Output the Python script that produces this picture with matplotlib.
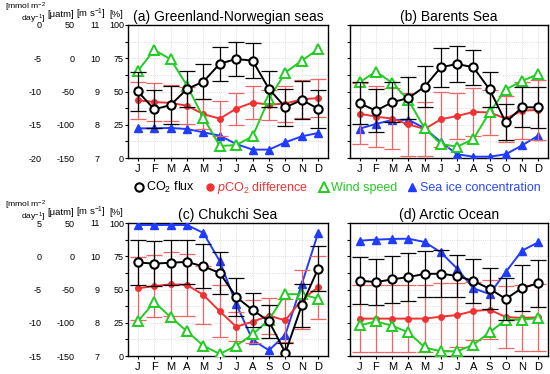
import matplotlib
matplotlib.use('Agg')
import matplotlib.pyplot as plt
from matplotlib.lines import Line2D
from matplotlib.ticker import MultipleLocator
import numpy as np

plt.rcParams['font.family'] = ['Liberation Sans', 'DejaVu Sans']
plt.rcParams['mathtext.fontset'] = 'custom'
plt.rcParams['mathtext.rm'] = 'Liberation Sans'
plt.rcParams['mathtext.it'] = 'Liberation Sans:italic'
plt.rcParams['mathtext.bf'] = 'Liberation Sans:bold'
plt.rcParams['mathtext.sf'] = 'Liberation Sans'

months = ['J', 'F', 'M', 'A', 'M', 'J', 'J', 'A', 'S', 'O', 'N', 'D']
titles = ['(a) Greenland-Norwegian seas', '(b) Barents Sea', '(c) Chukchi Sea', '(d) Arctic Ocean']

# CO2 flux [mmol m-2 day-1] and its spread
flux_a = [-9.98, -12.68, -12.04, -9.62, -8.52, -5.82, -5.12, -5.36, -9.62, -12.38, -11.28, -12.58]
flux_sd_a = [2.9, 2.85, 2.9, 2.75, 2.65, 2.55, 2.55, 2.6, 2.65, 2.8, 2.8, 2.85]
flux_b = [-11.78, -12.88, -11.62, -10.98, -9.28, -6.36, -5.86, -6.36, -9.68, -14.64, -12.38, -12.38]
flux_sd_b = [3.15, 3.2, 3.0, 3.15, 3.05, 2.9, 2.65, 2.65, 2.65, 2.7, 3.0, 3.1]
flux_c = [-0.92, -1.12, -0.96, -0.86, -1.52, -2.52, -6.12, -8.08, -9.78, -14.5, -7.38, -1.86]
flux_sd_c = [3.4, 3.35, 3.35, 3.35, 3.3, 3.1, 2.9, 2.6, 2.5, 1.5, 3.2, 3.4]
flux_d = [-3.68, -3.88, -3.48, -3.12, -2.66, -2.62, -2.96, -3.72, -4.88, -6.42, -4.78, -4.08]
flux_sd_d = [3.5, 3.5, 3.55, 3.6, 3.5, 3.55, 3.15, 3.25, 3.1, 3.2, 3.5, 3.5]

# pCO2 difference [uatm] and its spread
pco2_a = [-63.2, -65.8, -67.2, -71.4, -84.0, -90.8, -75.8, -66.6, -69.8, -68.2, -61.8, -59.8]
pco2_sd_a = [28, 28, 27.5, 27.5, 22, 26, 24, 24.5, 22.5, 27, 28.5, 28]
pco2_b = [-83.4, -87.8, -90.8, -99.4, -106.4, -91.8, -86.8, -80.8, -81.4, -90.8, -78.8, -77.8]
pco2_sd_b = [46, 46, 45.5, 47, 40, 41, 35, 36, 33.5, 34.5, 42.5, 45]
pco2_c = [-48.2, -44.8, -42.2, -43.2, -58.2, -82.8, -106.0, -98.4, -89.4, -96.4, -65.2, -46.8]
pco2_sd_c = [47, 47, 48, 46, 43, 39, 22, 32, 27, 32, 44, 47]
pco2_d = [-93.8, -93.8, -93.8, -93.8, -93.8, -90.8, -88.4, -82.4, -80.4, -91.4, -92.8, -91.8]
pco2_sd_d = [50, 50, 50, 50, 50, 50, 48, 44, 44, 47, 49, 50]

# Wind speed [m s-1]
wind_a = [9.62, 10.25, 9.97, 9.18, 8.21, 7.36, 7.39, 7.65, 8.78, 9.57, 9.93, 10.27]
wind_b = [9.28, 9.60, 9.26, 8.74, 7.89, 7.42, 7.34, 7.57, 8.37, 9.06, 9.32, 9.52]
wind_c = [8.04, 8.62, 8.17, 7.74, 7.31, 7.06, 7.31, 7.65, 8.09, 8.86, 8.86, 8.72]
wind_d = [7.92, 8.04, 7.91, 7.71, 7.26, 7.14, 7.14, 7.34, 7.71, 8.09, 8.09, 8.14]

# Sea ice concentration [%]
ice_a = [22.3, 22.3, 22.6, 21.8, 19.3, 16.8, 10.5, 6.3, 6.3, 11.8, 16.3, 18.8]
ice_b = [22.1, 25.6, 28.6, 28.8, 22.3, 12.0, 2.8, 1.0, 1.0, 2.8, 9.5, 16.8]
ice_c = [98.5, 98.5, 98.5, 98.5, 92.5, 71.2, 39.1, 12.0, 4.3, 16.0, 54.1, 92.5]
ice_d = [86.7, 87.5, 88.0, 88.2, 85.7, 77.9, 65.7, 50.9, 46.6, 63.2, 79.2, 85.5]

flux_ticks_top = [-20, -15, -10, -5, 0]
flux_ticks_bottom = [-15, -10, -5, 0, 5]
pco2_ticks = [-150, -100, -50, 0, 50]
wind_ticks = [7, 8, 9, 10, 11]
ice_ticks = [0, 25, 50, 75, 100]

BLACK = '#000000'
RED = '#f03232'
RED_ERR = '#f26464'
GREEN = '#22cc22'
BLUE = '#1f3cff'

fig = plt.figure(figsize=(5.5, 3.74), dpi=100)
W, H = 550.0, 374.0


def rect(l, t, r, b):
    return [l / W, 1 - b / H, (r - l) / W, (b - t) / H]


def make_twin(ax, lim, ticks, offset, show):
    tw = ax.twinx()
    tw.set_ylim(lim)
    for s in tw.spines.values():
        s.set_visible(False)
    if show:
        tw.yaxis.set_ticks_position('left')
        tw.spines['left'].set_position(('outward', offset))
        tw.set_yticks(ticks)
        tw.set_yticklabels([str(t) for t in ticks])
        tw.tick_params(axis='y', length=0, pad=0, labelsize=6.5)
    else:
        tw.set_yticks([])
    return tw


def panel(r, title, flux, flux_sd, pco2, pco2_sd, wind, ice, flux_ticks, show):
    ax = fig.add_axes(r)
    xs = np.arange(1, 13)
    ax.set_xlim(0.4, 12.6)
    ax.set_ylim(0, 100)
    ax.set_xticks(xs)
    ax.set_xticklabels(months)
    ax.set_yticks(ice_ticks)
    ax.yaxis.set_minor_locator(MultipleLocator(12.5))
    if show:
        ax.set_yticklabels([str(t) for t in ice_ticks])
    else:
        ax.set_yticklabels([])
    ax.tick_params(axis='y', which='both', direction='out', length=2, width=0.8, pad=1, labelsize=6.5)
    ax.tick_params(axis='x', direction='out', length=2, width=0.8, pad=2, labelsize=8)
    ax.grid(True, which='both', linestyle=':', color='#d0d0d0', linewidth=0.6)
    for s in ax.spines.values():
        s.set_linewidth(1.0)
    ax.set_title(title, fontsize=10, pad=3)

    tw_p = make_twin(ax, (pco2_ticks[0], pco2_ticks[-1]), pco2_ticks, 38.2, show)
    tw_w = make_twin(ax, (wind_ticks[0], wind_ticks[-1]), wind_ticks, 20.2, show)
    tw_f = make_twin(ax, (flux_ticks[0], flux_ticks[-1]), flux_ticks, 61.9, show)

    ax.plot(xs, ice, '-^', color=BLUE, mfc=BLUE, mec=BLUE, ms=6, lw=1.4, zorder=3)
    tw_p.errorbar(xs, pco2, yerr=pco2_sd, fmt='none', ecolor=RED_ERR, elinewidth=0.9,
                  capsize=5.5, capthick=0.9, zorder=1)
    tw_p.plot(xs, pco2, '-o', color=RED, ms=4, lw=1.4, zorder=3)
    tw_w.plot(xs, wind, '-^', color=GREEN, mfc='white', mec=GREEN, mew=1.4, ms=7, lw=1.4, zorder=3)
    tw_f.errorbar(xs, flux, yerr=flux_sd, fmt='none', ecolor=BLACK, elinewidth=0.9,
                  capsize=5.5, capthick=0.9, zorder=1)
    tw_f.plot(xs, flux, '-o', color=BLACK, mfc='white', mec=BLACK, mew=1.5, ms=6, lw=1.4, zorder=3)
    return ax


panel(rect(128, 25, 328, 158), titles[0], flux_a, flux_sd_a, pco2_a, pco2_sd_a, wind_a, ice_a, flux_ticks_top, True)
panel(rect(350, 25, 548, 158), titles[1], flux_b, flux_sd_b, pco2_b, pco2_sd_b, wind_b, ice_b, flux_ticks_top, False)
panel(rect(128, 223, 328, 356), titles[2], flux_c, flux_sd_c, pco2_c, pco2_sd_c, wind_c, ice_c, flux_ticks_bottom, True)
panel(rect(350, 223, 548, 356), titles[3], flux_d, flux_sd_d, pco2_d, pco2_sd_d, wind_d, ice_d, flux_ticks_bottom, False)

# unit headers
for (ytop, y2) in [(0.5, 14.5), (198.5, 212.5)]:
    fig.text(46 / W, 1 - ytop / H, '[mmol m$^{-2}$\nday$^{-1}$]', ha='right', va='top',
             multialignment='right', fontsize=6.1, linespacing=0.85)
    fig.text(61 / W, 1 - y2 / H, '[\u03bcatm]', ha='center', va='center', fontsize=6.8)
    fig.text(91 / W, 1 - y2 / H, r'[m s$^{-1}$]', ha='center', va='center', fontsize=6.8)
    fig.text(116 / W, 1 - y2 / H, '[%]', ha='center', va='center', fontsize=6.8)

handles = [
    Line2D([], [], ls='none', marker='o', mfc='white', mec=BLACK, mew=1.5, ms=6),
    Line2D([], [], ls='none', marker='o', color=RED, ms=5),
    Line2D([], [], ls='none', marker='^', mfc='white', mec=GREEN, mew=1.4, ms=7),
    Line2D([], [], ls='none', marker='^', color=BLUE, ms=6),
]
labels = ['CO$_2$ flux', r'$\it{p}$CO$_2$ difference', 'Wind speed', 'Sea ice concentration']
leg = fig.legend(handles, labels, loc='center', bbox_to_anchor=(0.614, 0.497), ncol=4,
                 frameon=False, fontsize=9, handletextpad=0.3, columnspacing=0.9,
                 handlelength=0.6, borderpad=0)
for t, c in zip(leg.get_texts(), [BLACK, RED, GREEN, '#2a48ff']):
    t.set_color(c)

fig.savefig('out.png', dpi=100)
